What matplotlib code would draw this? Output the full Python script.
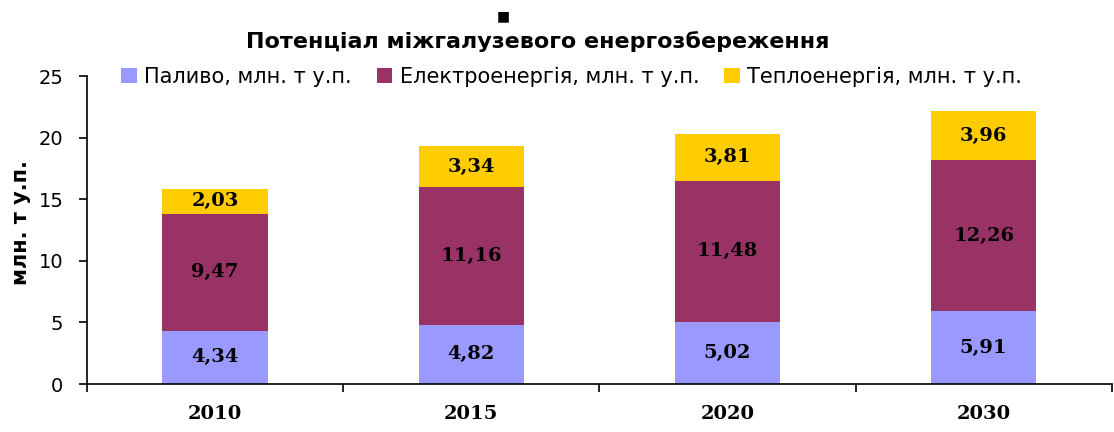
import matplotlib.pyplot as plt
import numpy as np

years = ["2010", "2015", "2020", "2030"]
fuel = [4.34, 4.82, 5.02, 5.91]
electricity = [9.47, 11.16, 11.48, 12.26]
heat = [2.03, 3.34, 3.81, 3.96]
series_names = ["Паливо, млн. т у.п.", "Електроенергія, млн. т у.п.", "Теплоенергія, млн. т у.п."]
colors = ["#9999FF", "#993366", "#FFCC00"]

fig = plt.figure(figsize=(11.14, 4.32), dpi=100)
ax = fig.add_axes([0.078, 0.111, 0.92, 0.713])

x = np.arange(len(years))
bottom = np.zeros(len(years))
for vals, name, c in zip([fuel, electricity, heat], series_names, colors):
    ax.bar(x, vals, width=0.41, bottom=bottom, color=c, label=name)
    for xi, b, v in zip(x, bottom, vals):
        ax.text(xi, b + v / 2, f"{v:.2f}".replace(".", ","), ha="center", va="center",
                fontsize=14, fontweight="bold", family="DejaVu Serif")
    bottom += np.array(vals)

ax.set_xlim(-0.5, len(years) - 0.5)
ax.set_ylim(0, 25)
ax.set_yticks(range(0, 26, 5))
ax.tick_params(axis="y", labelsize=14, length=6, width=1.2, direction="out", pad=11)

ax.set_xticks(x)
ax.set_xticklabels(years, fontsize=14, fontweight="bold", family="DejaVu Serif")
ax.tick_params(axis="x", which="major", length=0, pad=15)
ax.set_xticks(np.arange(-0.5, len(years)), minor=True)
ax.tick_params(axis="x", which="minor", length=6, width=1.2, direction="out")

for s in ["top", "right"]:
    ax.spines[s].set_visible(False)
for s in ["left", "bottom"]:
    ax.spines[s].set_linewidth(1.2)

ax.set_ylabel("млн. т у.п.", fontsize=15, fontweight="bold")
ax.yaxis.set_label_coords(-0.055, 0.525)

fig.text(0.483, 0.903, "Потенціал міжгалузевого енергозбереження", ha="center", va="center",
         fontsize=16, fontweight="bold")
fig.text(0.452, 0.963, "■", ha="center", va="center", fontsize=10)

fig.legend(loc="center", bbox_to_anchor=(0.513, 0.823), ncol=3, frameon=False,
           prop={"size": 15}, handlelength=0.75, handleheight=0.75,
           handletextpad=0.35, columnspacing=1.2, borderpad=0)

plt.savefig("out.png", dpi=100)
plt.close()
